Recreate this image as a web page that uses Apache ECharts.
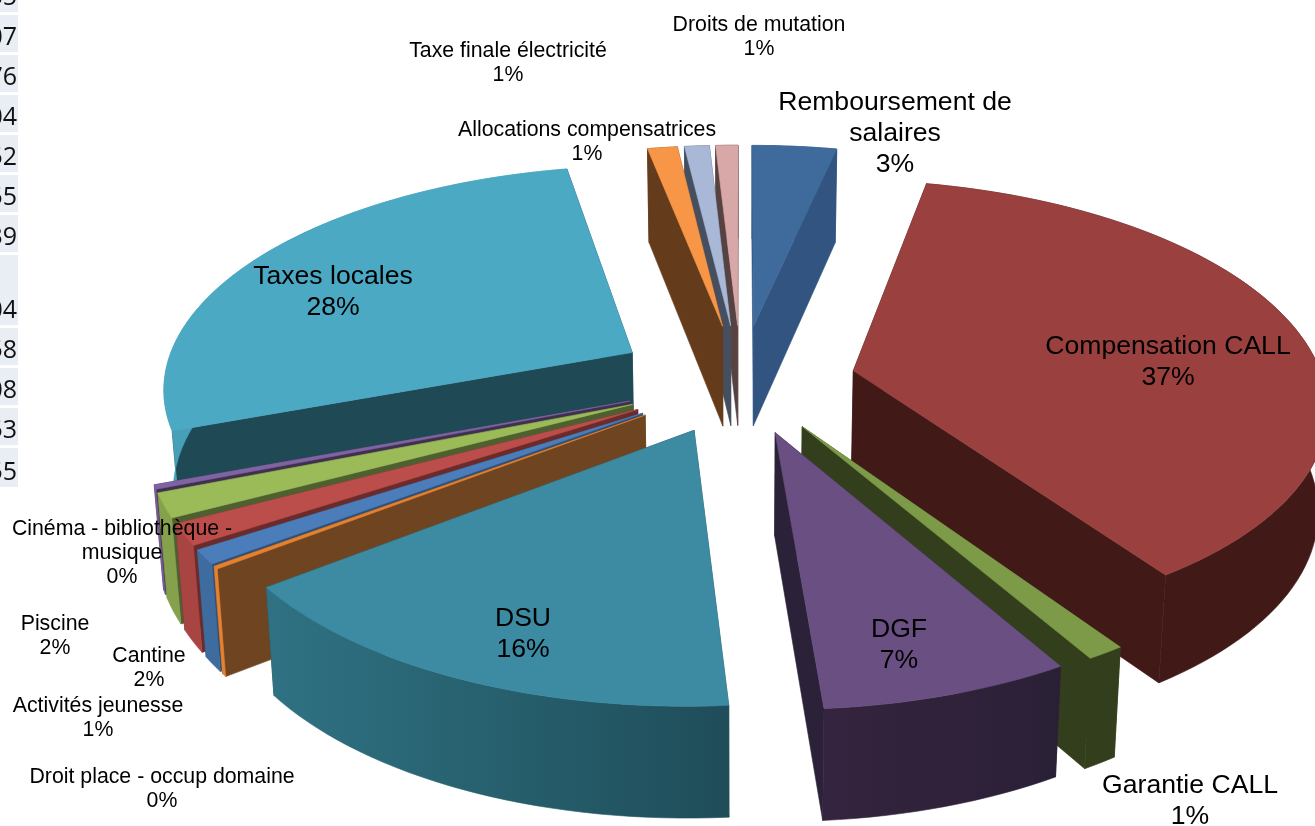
<!DOCTYPE html>
<html>
<head>
<meta charset="utf-8">
<style>html,body{margin:0;padding:0;background:#fff}#main{width:1315px;height:826px}</style>
<script src="https://cdn.jsdelivr.net/npm/echarts@6/dist/echarts.min.js"></script>
</head>
<body>
<div id="main"></div>
<script>
// parts of the pie, clockwise from 12 o'clock
var names = ['Remboursement de\nsalaires', 'Compensation CALL', 'Garantie CALL', 'DGF', 'DSU',
  'Droit place - occup domaine', 'Activités jeunesse', 'Cantine', 'Piscine',
  'Cinéma - bibliothèque -\nmusique', 'Taxes locales', 'Allocations compensatrices',
  'Taxe finale électricité', 'Droits de mutation'];
var values = [3.4, 37.1, 1.1, 7.2, 15.8, 0.2, 1.0, 1.5, 1.7, 0.3, 27.6, 1.2, 1.0, 0.9];
// leftover cells of the sheet behind the chart
var cellTexts = ['35', '07', '76', '04', '52', '55', '39', '04', '58', '08', '53', '55'];

var topColors = ['#3f6a9c', '#9a403e', '#7c9a48', '#6a5082', '#3c8ba3', '#e6812f', '#4b7dbb', '#bb4d4b', '#9bbb59', '#8064a2', '#4ba9c4', '#f79646', '#a8b8d6', '#d8a7a7'];
var sideColors = ['#315480', '#411a18', '#333f1c', '#2b2139', '#1f4a55', '#6f4420', '#2d4f78', '#6b2b2a', '#4f6030', '#3f3050', '#1f4a55', '#643b1b', '#454f60', '#574242'];
var rimColors = [['#315480', '#315480'], ['#411a18', '#411a18'], ['#333f1c', '#333f1c'], ['#35243f', '#2a2036'], ['#2f7283', '#1f4d59'],
  ['#e6812f', '#e6812f'], ['#3f6c9f', '#3f6c9f'], ['#a84543', '#a84543'], ['#86a14c', '#86a14c'], ['#7a5c9a', '#7a5c9a'], ['#46a0b8', '#46a0b8'], ['#643b1b', '#643b1b'], ['#454f60', '#454f60'], ['#574242', '#574242']];
var explode = [0.26, 0.245, 0.237, 0.237, 0.237, 0.25, 0.25, 0.25, 0.25, 0.25, 0.27, 0.26, 0.26, 0.26];
var drawOrder = [13, 12, 11, 0, 1, 10, 9, 8, 7, 6, 5, 2, 3, 4];

var labelAt = [[895, 103], [1168, 347], [1190, 786], [899, 630], [523, 619], [162, 777], [98, 706], [149, 656], [55, 624], [122, 529], [333, 277], [587, 130], [508, 51], [759, 25]];
var labelBig = [1, 1, 1, 1, 1, 0, 0, 0, 0, 0, 1, 0, 0, 0];

var total = values.reduce(function (a, b) { return a + b; }, 0);
var starts = [], run = 0;
values.forEach(function (v) { starts.push(run); run += v; });

var cx = 741, cy = 381, S0 = 470, persp = 0.143, tilt = 0.47;

function angleOf(v) {
  return echarts.number.linearMap(v, [0, total], [0, Math.PI * 2]);
}
function project(X, Y, low) {
  var s = S0 / (1 - persp * Y);
  var x = cx + X * s, y = cy + tilt * Y * s;
  if (low) {
    x = cx + (x - cx) * 0.984;
    y += 100 * Math.pow(s / 455, 0.5);
  }
  return [x, y];
}
function sliceGeom(i) {
  var a0 = angleOf(starts[i]), a1 = angleOf(starts[i] + values[i]);
  var m = (a0 + a1) / 2;
  var ox = explode[i] * Math.sin(m), oy = -explode[i] * Math.cos(m);
  var n = Math.max(2, Math.ceil((a1 - a0) / 0.03));
  var arc = [];
  for (var j = 0; j <= n; j++) {
    var a = a0 + (a1 - a0) * j / n;
    arc.push([ox + Math.sin(a), oy - Math.cos(a)]);
  }
  return { apex: [ox, oy], arc: arc };
}
function pt(p, low) { return project(p[0], p[1], low); }
function poly(points, fill) {
  return { type: 'polygon', shape: { points: points }, style: { fill: fill, stroke: fill, lineWidth: 0.6 } };
}

function renderSlice(params, api) {
  var i = api.value(0);
  var g = sliceGeom(i);
  var first = g.arc[0], last = g.arc[g.arc.length - 1];
  var wallA = poly([pt(g.apex), pt(first), pt(first, true), pt(g.apex, true)], sideColors[i]);
  var wallB = poly([pt(g.apex), pt(last), pt(last, true), pt(g.apex, true)], sideColors[i]);
  var upper = g.arc.map(function (p) { return pt(p); });
  var lower = g.arc.map(function (p) { return pt(p, true); }).reverse();
  var rim = poly(upper.concat(lower), {
    type: 'linear', x: 0, y: 0, x2: 1, y2: 0,
    colorStops: [{ offset: 0, color: rimColors[i][0] }, { offset: 1, color: rimColors[i][1] }]
  });
  var top = poly([pt(g.apex)].concat(upper), topColors[i]);
  return { type: 'group', children: [wallA, wallB, rim, top] };
}

function renderLabel(params, api) {
  var i = api.value(0);
  var big = labelBig[i];
  var pct = Math.round(values[i] * 100 / total + 1e-9);
  var size = big ? 26.6 : 21.3, lh = big ? 31 : 24;
  return {
    type: 'text',
    x: labelAt[i][0],
    y: labelAt[i][1] - lh / 2,
    style: {
      text: names[i] + '\n' + pct + '%',
      fill: '#000',
      font: size + 'px "Liberation Sans", Arial, sans-serif',
      lineHeight: lh,
      align: 'center',
      verticalAlign: 'top'
    }
  };
}

// sheet cells on the left edge
var cellTops = [-25, 15, 55, 95, 135, 175, 215, 255, 328, 368, 408, 448];
var cellHeights = [37, 37, 37, 37, 37, 37, 37, 70, 37, 37, 37, 39];
var cellGraphics = [];
cellTexts.forEach(function (t, i) {
  cellGraphics.push({ type: 'rect', shape: { x: 0, y: cellTops[i], width: 18, height: cellHeights[i] }, style: { fill: '#e9edf4' }, z: -1 });
  cellGraphics.push({
    type: 'text', x: 17, y: cellTops[i] + cellHeights[i] - 14, z: 0,
    style: { text: t, fill: '#111', font: '25px "Open Sans", sans-serif', align: 'right', verticalAlign: 'middle' }
  });
});

var chart = echarts.init(document.getElementById('main'));
chart.setOption({
  animation: false,
  backgroundColor: '#fff',
  graphic: cellGraphics,
  series: [
    {
      type: 'custom',
      coordinateSystem: 'none',
      renderItem: renderSlice,
      data: drawOrder.map(function (i) { return [i, values[i]]; }),
      silent: true,
      z: 2
    },
    {
      type: 'custom',
      coordinateSystem: 'none',
      renderItem: renderLabel,
      data: names.map(function (n, i) { return [i, values[i]]; }),
      silent: true,
      z: 3
    }
  ]
});
</script>
</body>
</html>
